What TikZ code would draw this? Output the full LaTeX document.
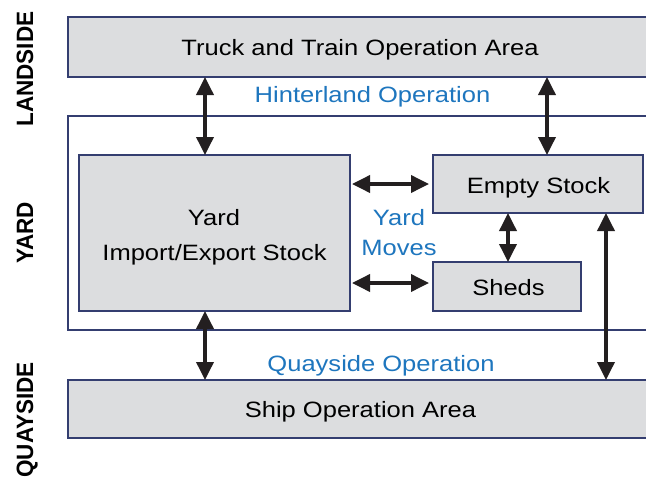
\documentclass[tikz,border=0pt]{standalone}
\usepackage{fontspec}
\usepackage{graphicx}
\setmainfont{Liberation Sans}[FakeStretch=1.15]
\newfontfamily\sidefont{Liberation Sans}
\usetikzlibrary{arrows.meta}
\definecolor{boxline}{RGB}{52,62,112}
\definecolor{boxfill}{RGB}{220,221,223}
\definecolor{optext}{RGB}{30,118,190}
\definecolor{arrowink}{RGB}{35,31,32}
\begin{document}
\begin{tikzpicture}[x=1pt,y=-1pt,
  area/.style={draw=boxline, line width=1.3pt, rectangle, inner sep=0pt,
    outer sep=0pt, anchor=north west},
  grey/.style={area, fill=boxfill},
  txt/.style={anchor=base, inner sep=0pt, font=\fontsize{22.2}{26}\selectfont},
  optxt/.style={txt, text=optext},
  side/.style={anchor=base, inner sep=0pt, rotate=90,
    font=\sidefont\bfseries\fontsize{22.5}{26}\selectfont},
  tip/.tip={Triangle[width=17pt,length=18pt]},
  arr/.style={draw=arrowink, line width=3.6pt, tip-tip}]
\path[use as bounding box] (0,0) rectangle (646,483);
\clip (0,0) rectangle (646,483);

% areas
\node[grey, minimum width=632pt, minimum height=60pt] (truck) at (68,17) {};
\node[area, fill=white, minimum width=632pt, minimum height=214pt] (yard) at (68,116) {};
\node[grey, minimum width=271pt, minimum height=156pt] (yardin) at (79,155) {};
\node[grey, minimum width=210pt, minimum height=58pt] (empty) at (433,155) {};
\node[grey, minimum width=148pt, minimum height=49pt] (sheds) at (433,262) {};
\node[grey, minimum width=632pt, minimum height=58pt] (ship) at (68,380) {};

% texts
\node[txt] (tTruck) at (360,55) {Truck and Train Operation Area};
\node[optxt] (tHinter) at (372.5,102) {Hinterland Operation};
\node[txt] (tYard) at (214,225) {Yard};
\node[txt] (tStock) at (214.5,260) {Import/Export Stock};
\node[optxt] (tMv1) at (399,225) {Yard};
\node[optxt] (tMv2) at (399,255) {Moves};
\node[txt] (tEmpty) at (538.5,193) {Empty Stock};
\node[txt] (tSheds) at (508.5,295) {Sheds};
\node[optxt] (tQuay) at (381,371) {Quayside Operation};
\node[txt] (tShip) at (360.5,417) {Ship Operation Area};

% side labels
\node[side] (sLand) at (33,69) {\scalebox{1}[1.05]{LANDSIDE}};
\node[side] (sYard) at (33,233) {\scalebox{1}[1.05]{YARD}};
\node[side] (sQuay) at (33,420) {\scalebox{1}[1.05]{QUAYSIDE}};

% arrow columns and rows
\coordinate (xl) at (205,0);
\coordinate (xr) at (547,0);
\coordinate (xs) at (508,0);
\coordinate (xf) at (606,0);
\coordinate (rowb) at (0,283);

% connectors
\draw[arr] (truck.south -| xl) -- (yardin.north -| xl);
\draw[arr] (truck.south -| xr) -- (empty.north -| xr);
\draw[arr] (empty.south -| xs) -- (sheds.north -| xs);
\draw[arr] (yardin.south -| xl) -- (ship.north -| xl);
\draw[arr] (empty.south -| xf) -- (ship.north -| xf);
\draw[arr, shorten <=2pt, shorten >=4pt] (yardin.east |- empty.west) -- (empty.west);
\draw[arr, shorten <=2pt, shorten >=4pt] (yardin.east |- rowb) -- (sheds.west |- rowb);
\end{tikzpicture}
\end{document}
